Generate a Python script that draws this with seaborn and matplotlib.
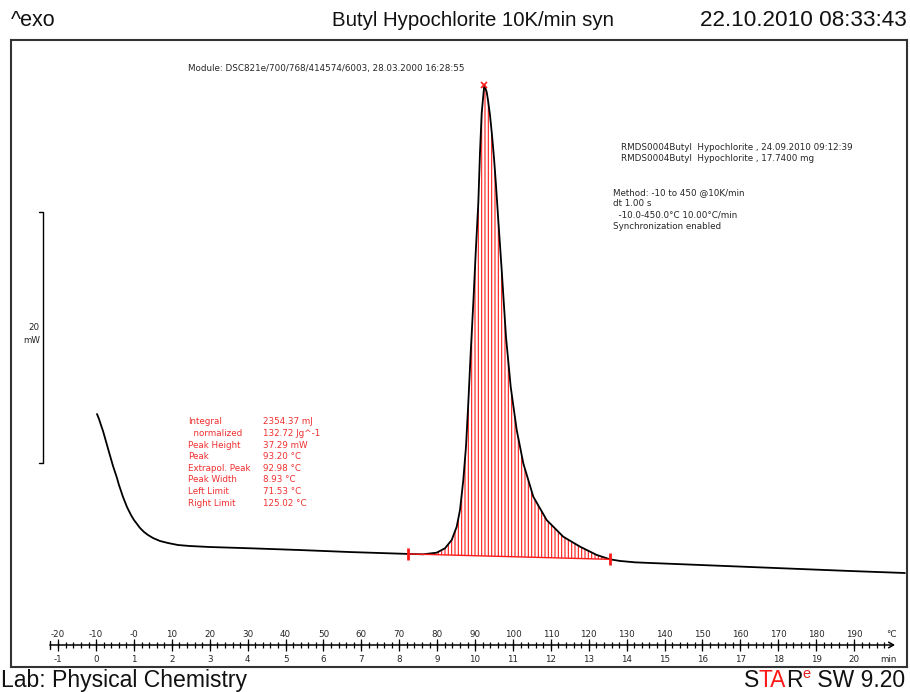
import matplotlib.pyplot as plt
import numpy as np
import pandas as pd
import seaborn as sns

# --------------------------------------------------------------
# Data
# --------------------------------------------------------------
temp_c = [-9.76, -9.23, -8.71, -8.18, -7.65, -7.12, -6.60, -6.07, -5.54, -5.01,
          -4.49, -3.96, -3.43, -2.90, -2.37, -1.85, -1.32, -0.79, 0.0, 0.79,
          1.58, 2.64, 3.69, 5.01, 6.86, 8.97, 11.61, 14.78, 20.05, 30.61,
          43.8, 57.0, 72.3, 76.33, 79.87, 82.06, 83.83, 85.15, 86.02, 86.89,
          87.60, 88.21, 88.84, 89.53, 90.16, 90.85, 91.29, 91.74, 92.43, 93.06,
          93.40, 93.93, 94.46, 94.99, 95.51, 96.12, 97.02, 98.15, 99.39, 100.98,
          102.72, 105.36, 108.89, 113.27, 117.68, 122.08, 125.59, 128.23, 132.2, 136.1,
          149.3, 162.5, 175.7, 188.9, 203.4]
heat_flow_mw = [14.82, 14.42, 13.94, 13.47, 12.91, 12.35, 11.79, 11.24, 10.68, 10.20,
                9.72, 9.16, 8.69, 8.21, 7.81, 7.41, 7.09, 6.77, 6.37, 6.06,
                5.74, 5.42, 5.18, 4.94, 4.70, 4.54, 4.38, 4.30, 4.22, 4.12,
                3.98, 3.82, 3.67, 3.64, 3.77, 4.12, 4.78, 5.84, 7.17, 9.56,
                12.22, 15.70, 19.68, 23.67, 27.65, 31.63, 35.62, 38.80, 41.04, 40.48,
                39.84, 38.65, 37.05, 35.22, 33.07, 30.28, 26.29, 20.98, 17.00, 13.55,
                10.89, 8.23, 6.37, 5.04, 4.25, 3.59, 3.24, 3.11, 3.00, 2.95,
                2.79, 2.63, 2.47, 2.31, 2.15]

left_limit = 72.3
right_limit = 125.59
peak_temp = 92.43

scale_bar_mw = 20
scale_bar_start = 10.9

ruler_major_c = list(range(-20, 200, 10))
ruler_minor_c = list(range(-20, 200, 2))
ruler_c_labels = ["-20", "-10", "-0", "10", "20", "30", "40", "50", "60", "70", "80",
                  "90", "100", "110", "120", "130", "140", "150", "160", "170", "180", "190"]
ruler_min_labels = ["-1", "0", "1", "2", "3", "4", "5", "6", "7", "8", "9", "10",
                    "11", "12", "13", "14", "15", "16", "17", "18", "19", "20"]

result_names = ["Integral", "  normalized", "Peak Height", "Peak", "Extrapol. Peak",
                "Peak Width", "Left Limit", "Right Limit"]
result_values = ["2354.37 mJ", "132.72 Jg^-1", "37.29 mW", "93.20 °C", "92.98 °C",
                 "8.93 °C", "71.53 °C", "125.02 °C"]

df = pd.DataFrame({"temp": temp_c, "hf": heat_flow_mw})

# --------------------------------------------------------------
# Styling
# --------------------------------------------------------------
RED = "#ff1a1a"
TXT_RED = "#f03030"
FRAME = "#333333"
INK = "#111111"
SMALL = "DejaVu Sans"
BIG = "Liberation Sans"

sns.set_style("white")
plt.rcParams["font.family"] = ["DejaVu Sans"]
plt.rcParams["hatch.linewidth"] = 0.8

fig = plt.figure(figsize=(9.1, 6.92), dpi=100)
ax = fig.add_axes([11 / 910, 25 / 692, 896 / 910, 627 / 692])

# --------------------------------------------------------------
# Curve, integration area
# --------------------------------------------------------------
sns.lineplot(data=df, x="temp", y="hf", sort=False, color="black", linewidth=1.3,
             solid_joinstyle="round", ax=ax)

base_left = np.interp(left_limit, df["temp"], df["hf"])
base_right = np.interp(right_limit, df["temp"], df["hf"])
area = df[(df["temp"] > left_limit) & (df["temp"] < right_limit)]
xs = np.concatenate([[left_limit], area["temp"], [right_limit]])
ys = np.interp(xs, df["temp"], df["hf"])
baseline = np.interp(xs, [left_limit, right_limit], [base_left, base_right])
ax.fill_between(xs, baseline, ys, facecolor="none", edgecolor=RED, hatch="|||||",
                linewidth=0, zorder=1)
ax.plot([left_limit, right_limit], [base_left, base_right], color=RED, linewidth=1)
ax.plot([left_limit, right_limit], [base_left, base_right], linestyle="none",
        marker="|", markersize=9, markeredgewidth=2, color=RED)
ax.plot([peak_temp], [np.interp(peak_temp, df["temp"], df["hf"])], marker="x",
        markersize=5, markeredgewidth=1.2, color=RED)

ax.set_xlim(-32.45, 203.96)
ax.set_ylim(-5.34, 44.62)
ax.set_xticks([])
ax.set_yticks([])
ax.set_xlabel("")
ax.set_ylabel("")
for s in ax.spines.values():
    s.set_visible(True)
    s.set_color(FRAME)
    s.set_linewidth(1.5)

# --------------------------------------------------------------
# 20 mW scale bar
# --------------------------------------------------------------
bar_x = -24.0
ax.plot([bar_x - 1.1, bar_x, bar_x, bar_x - 1.1],
        [scale_bar_start, scale_bar_start, scale_bar_start + scale_bar_mw,
         scale_bar_start + scale_bar_mw], color="black", linewidth=1)
ax.text(bar_x - 0.8, scale_bar_start + scale_bar_mw * 0.5 + 0.3, "20\nmW",
        ha="right", va="center", fontsize=6.3, family=SMALL, linespacing=1.5)

# --------------------------------------------------------------
# Temperature / time ruler
# --------------------------------------------------------------
tr = ax.get_xaxis_transform()
ry = 0.0351
ax.annotate("", xy=(200.8, ry), xytext=(-22.2, ry), xycoords=tr, textcoords=tr,
            arrowprops=dict(arrowstyle="->,head_length=0.35,head_width=0.2",
                            color="black", lw=1.1, shrinkA=0, shrinkB=0))
ax.vlines(ruler_minor_c, ry - 0.0055, ry + 0.0055, transform=tr, color="black", lw=0.9)
ax.vlines(ruler_major_c, ry - 0.009, ry + 0.009, transform=tr, color="black", lw=0.9)
ax.plot([-22.2, -22.2], [ry - 0.006, ry + 0.006], transform=tr, color="black", lw=1)
for t, lc, lm in zip(ruler_major_c, ruler_c_labels, ruler_min_labels):
    ax.text(t, ry + 0.010, lc, transform=tr, ha="center", va="bottom",
            fontsize=6.3, family=SMALL)
    ax.text(t, ry - 0.016, lm, transform=tr, ha="center", va="top",
            fontsize=6.3, family=SMALL)
ax.text(199.8, ry + 0.010, "°C", transform=tr, ha="center", va="bottom",
        fontsize=6.3, family=SMALL)
ax.text(199.0, ry - 0.016, "min", transform=tr, ha="center", va="top",
        fontsize=6.3, family=SMALL)

# --------------------------------------------------------------
# Text blocks
# --------------------------------------------------------------
def px(x, y):
    return x / 910, 1 - y / 692


fig.text(*px(188, 69), "Module: DSC821e/700/768/414574/6003, 28.03.2000 16:28:55",
         fontsize=6.3, family=SMALL, va="center")
fig.text(*px(621, 153),
         "RMDS0004Butyl  Hypochlorite , 24.09.2010 09:12:39\n"
         "RMDS0004Butyl  Hypochlorite , 17.7400 mg",
         fontsize=6.3, family=SMALL, va="center", linespacing=1.38)
fig.text(*px(613, 209.5),
         "Method: -10 to 450 @10K/min\ndt 1.00 s\n  -10.0-450.0°C 10.00°C/min\n"
         "Synchronization enabled",
         fontsize=6.3, family=SMALL, va="center", linespacing=1.36)
fig.text(*px(188, 462.5), "\n".join(result_names), fontsize=6.3, family=SMALL,
         va="center", color=TXT_RED, linespacing=1.37)
fig.text(*px(263, 462.5), "\n".join(result_values), fontsize=6.3, family=SMALL,
         va="center", color=TXT_RED, linespacing=1.37)

# header
fig.text(*px(11, 20), "^exo", fontsize=15.5, family=BIG, va="center", color=INK)
fig.text(*px(473, 20), "Butyl Hypochlorite 10K/min syn", fontsize=14.7, family=BIG,
         va="center", ha="center", color=INK)
fig.text(*px(907, 20), "22.10.2010 08:33:43", fontsize=16.2, family=BIG,
         va="center", ha="right", color=INK)

# footer
fig.text(*px(1, 687), "Lab: Physical Chemistry", fontsize=16.6, family=BIG,
         va="baseline", color=INK)
t_sw = fig.text(*px(905, 687), " SW 9.20", fontsize=16.5, family=BIG, va="baseline",
                ha="right", color=INK)
t_e = fig.text(0, 0, "e", fontsize=10.5, family=BIG, color="#e81e1e", ha="right",
               va="baseline")
t_r = fig.text(0, 0, "R", fontsize=16.5, family=BIG, ha="right", va="baseline",
               color=INK)
t_ta = fig.text(0, 0, "TA", fontsize=16.5, family=BIG, ha="right", va="baseline",
                color=RED)
t_s = fig.text(0, 0, "S", fontsize=16.5, family=BIG, ha="right", va="baseline",
               color=INK)

# chain the STARe logo pieces leftwards from " SW 9.20"
fig.canvas.draw()
inv = fig.transFigure.inverted()
x0 = inv.transform(t_sw.get_window_extent().p0)[0]
base_y = px(0, 687)[1]
t_e.set_position((x0, px(0, 677.5)[1]))
fig.canvas.draw()
x0 = inv.transform(t_e.get_window_extent().p0)[0]
for piece in (t_r, t_ta, t_s):
    piece.set_position((x0, base_y))
    fig.canvas.draw()
    x0 = inv.transform(piece.get_window_extent().p0)[0]

fig.savefig("out.png", dpi=100)
